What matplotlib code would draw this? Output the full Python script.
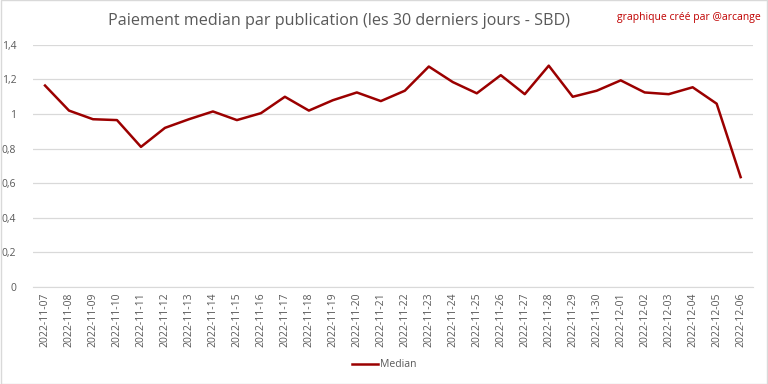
import matplotlib
matplotlib.use('Agg')
import matplotlib.pyplot as plt
from matplotlib.ticker import FuncFormatter

plt.rcParams['font.family'] = ['Open Sans', 'DejaVu Sans']

# dates 2022-11-07 .. 2022-12-06
dates = ['2022-11-07', '2022-11-08', '2022-11-09', '2022-11-10', '2022-11-11',
         '2022-11-12', '2022-11-13', '2022-11-14', '2022-11-15', '2022-11-16',
         '2022-11-17', '2022-11-18', '2022-11-19', '2022-11-20', '2022-11-21',
         '2022-11-22', '2022-11-23', '2022-11-24', '2022-11-25', '2022-11-26',
         '2022-11-27', '2022-11-28', '2022-11-29', '2022-11-30', '2022-12-01',
         '2022-12-02', '2022-12-03', '2022-12-04', '2022-12-05', '2022-12-06']
median = [1.165, 1.02, 0.97, 0.965, 0.81, 0.92, 0.97, 1.015, 0.965, 1.005,
          1.10, 1.02, 1.08, 1.125, 1.075, 1.135, 1.275, 1.185, 1.12, 1.225,
          1.115, 1.28, 1.10, 1.135, 1.195, 1.125, 1.115, 1.155, 1.06, 0.635]

grey = '#595959'
fig = plt.figure(figsize=(7.68, 3.84), dpi=100)
ax = fig.add_axes([0.043, 0.253, 0.937, 0.63])

x = list(range(len(dates)))
ax.plot(x, median, color='#9b0000', lw=1.8, label='Median')

ax.set_xlim(-0.5, len(dates) - 0.5)
ax.set_ylim(0, 1.4)
ax.set_yticks([0, 0.2, 0.4, 0.6, 0.8, 1.0, 1.2, 1.4])
ax.yaxis.set_major_formatter(FuncFormatter(lambda v, p: ('%g' % round(v, 1)).replace('.', ',')))
ax.set_xticks(x)
ax.set_xticklabels(dates, rotation=90, fontsize=7.5, color=grey)
ax.tick_params(axis='y', labelsize=7.5, labelcolor=grey, length=0, pad=12)
ax.tick_params(axis='x', length=0, pad=4)
ax.grid(axis='y', color='#d9d9d9', lw=0.9)
ax.set_axisbelow(True)
for s in ['top', 'right', 'left']:
    ax.spines[s].set_visible(False)
ax.spines['bottom'].set_color('#d9d9d9')

fig.text(0.442, 0.945, 'Paiement median par publication (les 30 derniers jours - SBD)',
         ha='center', va='center', fontsize=11.6, color=grey)
fig.text(0.99, 0.955, 'graphique créé par @arcange', ha='right', va='center',
         fontsize=7.5, color='#c00000')

fig.legend(loc='center', bbox_to_anchor=(0.5, 0.05), frameon=False, fontsize=7.5,
           labelcolor=grey, handlelength=2.5, handletextpad=0.2)

fig.patches.append(plt.Rectangle((0.001, 0.001), 0.998, 0.998, transform=fig.transFigure,
                                 fill=False, edgecolor='#d9d9d9', lw=1))

fig.savefig('out.png', dpi=100)
